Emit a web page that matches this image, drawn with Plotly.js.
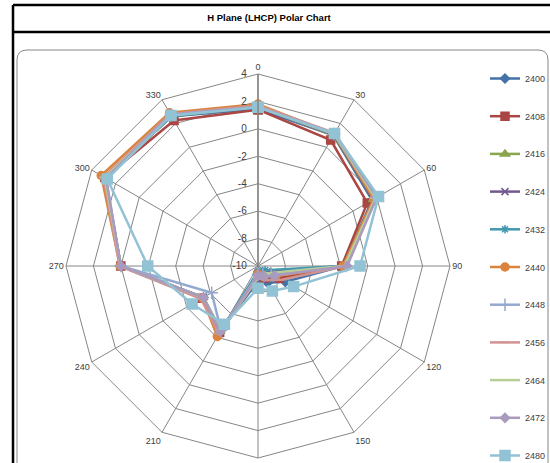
<!DOCTYPE html>
<html>
<head>
<meta charset="utf-8">
<script src="https://cdn.plot.ly/plotly-3.0.1.min.js"></script>
<style>html,body{margin:0;padding:0;background:#fff;}#chart{width:550px;height:463px;}</style>
</head>
<body>
<div id="chart"></div>
<script>
const angles = ['0','30','60','90','120','150','180','210','240','270','300','330'];
const angleLabels = ['0','30','60','90','120','150','','210','240','270','300','330'];
const seriesNames = ['2400','2408','2416','2424','2432','2440','2448','2456','2464','2472','2480'];
const radialTicks = [-10,-8,-6,-4,-2,0,2,4];

const s2400 = [1.45, 1.0, -0.4, -3.8, -7.7, -8.6, -8.9, -4.6, -5.4, 0.0, 2.9, 2.6];
const s2408 = [1.4, 0.6, -0.8, -3.9, -8.2, -9.0, -9.3, -4.4, -5.3, 0.0, 2.9, 2.25];
const s2416 = [1.6, 1.0, -0.3, -3.8, -9.0, -9.2, -9.3, -4.5, -5.4, 0.0, 2.9, 2.6];
const s2424 = [1.6, 1.05, -0.3, -3.8, -9.2, -9.4, -9.5, -4.5, -5.4, 0.0, 2.9, 2.6];
const s2432 = [1.6, 1.1, -0.2, -3.8, -9.4, -9.5, -9.6, -4.5, -5.4, 0.0, 2.9, 2.6];
const s2440 = [1.8, 1.1, -0.25, -3.8, -8.5, -9.2, -9.4, -4.07, -5.32, 0.06, 3.2, 2.9];
const s2448 = [1.6, 1.1, -0.1, -3.6, -8.9, -9.3, -9.4, -4.6, -6.1, 0.0, 2.8, 2.7];
const s2456 = [1.7, 1.2, 0.0, -3.6, -8.0, -8.8, -9.1, -4.3, -5.2, 0.1, 3.0, 2.8];
const s2464 = [1.6, 1.1, -0.1, -3.7, -9.0, -9.2, -9.2, -4.6, -5.4, 0.0, 2.9, 2.7];
const s2472 = [1.6, 1.15, 0.0, -3.5, -8.6, -9.1, -9.3, -4.5, -5.4, 0.0, 2.8, 2.75];
const s2480 = [1.57, 1.16, 0.15, -2.56, -7.0, -7.9, -8.37, -5.1, -4.45, -1.96, 2.69, 2.68];

const seriesValues = [s2400,s2408,s2416,s2424,s2432,s2440,s2448,s2456,s2464,s2472,s2480];
const colors = ['#4572A7','#AA4643','#89A54E','#71588F','#4198AF','#DB843D','#93A9CF','#D19392','#B9CD96','#A99BBD','#92C3D5'];
const symbols = ['diamond','square','triangle-up','x-thin-open','asterisk-open','circle','cross-thin-open','line-ew-open','line-ew-open','diamond','square'];
const sizes = [7,8,8,7,7,8,9,7,7,7,10];

// Plotly hides markers when the radial range is negative, so the radial
// scale is offset by its minimum and labelled with the true values.
const rMin = radialTicks[0];
const rMax = radialTicks[radialTicks.length - 1];
const shift = v => v - rMin;

const W = 550, H = 463;
const px = x => x / W;
const py = y => 1 - y / H;

const traces = seriesNames.map((name, i) => ({
  type: 'scatterpolar',
  name: name,
  legendgroup: 'g' + i,
  r: seriesValues[i].concat([seriesValues[i][0]]).map(shift),
  customdata: seriesValues[i].concat([seriesValues[i][0]]),
  hovertemplate: '%{theta}: %{customdata}<extra>' + name + '</extra>',
  theta: angles.concat([angles[0]]),
  mode: 'lines+markers',
  line: {color: colors[i], width: 2.5},
  marker: {color: colors[i], symbol: symbols[i], size: sizes[i], line: {color: colors[i], width: 1.5}}
}));

const grayFrame = 'M ' + px(548) + ',' + py(463) + ' L ' + px(548) + ',' + py(60) +
  ' Q ' + px(548) + ',' + py(50) + ' ' + px(538) + ',' + py(50) +
  ' L ' + px(27) + ',' + py(50) + ' Q ' + px(17) + ',' + py(50) + ' ' + px(17) + ',' + py(60) +
  ' L ' + px(17) + ',' + py(463);

const layout = {
  width: W, height: H,
  margin: {l: 0, r: 0, t: 0, b: 0, autoexpand: false},
  paper_bgcolor: '#ffffff',
  font: {family: 'Liberation Sans, Arial, sans-serif', color: '#404040', size: 9},
  title: {
    text: '<b>H Plane (LHCP) Polar Chart</b>',
    font: {family: 'Liberation Sans, Arial, sans-serif', size: 9.5, color: '#000000'},
    xref: 'container', yref: 'container',
    x: 269 / W, y: 1 - 18 / H, xanchor: 'center', yanchor: 'middle'
  },
  showlegend: true,
  legend: {
    x: px(485), y: py(64), xanchor: 'left', yanchor: 'top',
    font: {size: 9, color: '#404040'},
    tracegroupgap: 18.7,
    bgcolor: 'rgba(0,0,0,0)'
  },
  polar: {
    domain: {x: [px(66), px(450)], y: [py(458), py(74)]},
    gridshape: 'linear',
    bgcolor: '#ffffff',
    radialaxis: {
      range: [shift(rMin), shift(rMax)],
      tickvals: radialTicks.map(shift),
      ticktext: radialTicks.map(String),
      angle: 90,
      tickangle: 90,
      side: 'counterclockwise',
      showline: true, linecolor: '#868686', linewidth: 1.5,
      gridcolor: '#868686', gridwidth: 1,
      ticks: 'outside', ticklen: 7, tickcolor: 'rgba(0,0,0,0)',
      tickfont: {size: 10, color: '#404040'}
    },
    angularaxis: {
      type: 'category',
      categoryarray: angles,
      tickvals: angles,
      ticktext: angleLabels,
      rotation: 90, direction: 'clockwise',
      showline: true, linecolor: '#868686', linewidth: 1,
      gridcolor: '#868686', gridwidth: 1,
      ticks: '', tickfont: {size: 9, color: '#404040'}
    }
  },
  shapes: [
    {type: 'line', xref: 'paper', yref: 'paper', x0: px(13), x1: px(13), y0: py(5), y1: py(463), line: {color: '#000', width: 2.5}},
    {type: 'line', xref: 'paper', yref: 'paper', x0: px(13), x1: px(550), y0: py(5), y1: py(5), line: {color: '#000', width: 2.5}},
    {type: 'line', xref: 'paper', yref: 'paper', x0: px(13), x1: px(550), y0: py(32), y1: py(32), line: {color: '#000', width: 2.5}},
    {type: 'path', xref: 'paper', yref: 'paper', path: grayFrame, line: {color: '#868686', width: 1}}
  ]
};

Plotly.newPlot('chart', traces, layout, {displayModeBar: false});
</script>
</body>
</html>
